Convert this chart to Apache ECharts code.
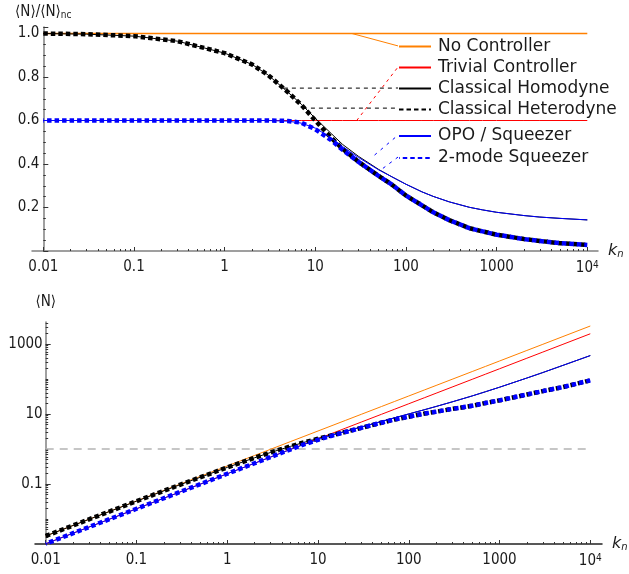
<!DOCTYPE html>
<html>
<head>
<meta charset="utf-8">
<script src="https://cdn.jsdelivr.net/npm/echarts@6/dist/echarts.min.js"></script>
<style>
html, body { margin: 0; padding: 0; background: #fff; }
#chart { width: 629px; height: 574px; }
</style>
</head>
<body>
<div id="chart"></div>
<script>
(function () {
    'use strict';

    /* -- Data -- */

    // Coupling strength samples k_n, shared by both panels.
    var kn = [0.01, 0.03, 0.1, 0.3, 1, 2, 3, 5, 7, 10, 15, 20, 30, 50, 70, 100,
        150, 200, 300, 500, 700, 1000, 2000, 3000, 5000, 10000];

    // Top panel: <N>/<N>nc
    var ratioNoCtrl = [1, 1, 1, 1, 1, 1, 1, 1, 1, 1, 1, 1, 1, 1, 1, 1, 1, 1, 1, 1, 1, 1, 1, 1, 1, 1];
    var ratioTrivial = [0.6, 0.6, 0.6, 0.6, 0.6, 0.6, 0.6, 0.6, 0.6, 0.6, 0.6, 0.6, 0.6,
        0.6, 0.6, 0.6, 0.6, 0.6, 0.6, 0.6, 0.6, 0.6, 0.6, 0.6, 0.6, 0.6];
    var ratioHomodyne = [1.0, 0.997, 0.988, 0.965, 0.91, 0.858, 0.81, 0.73, 0.675, 0.61, 0.54,
        0.49, 0.435, 0.375, 0.341, 0.307, 0.272, 0.251, 0.226, 0.201, 0.189, 0.178, 0.163, 0.156, 0.15, 0.143];
    var ratioHeterodyne = [1.0, 0.997, 0.988, 0.965, 0.91, 0.858, 0.81, 0.73, 0.672, 0.60, 0.52,
        0.47, 0.41, 0.345, 0.305, 0.255, 0.21, 0.178, 0.142, 0.105, 0.09, 0.075, 0.055, 0.046, 0.036, 0.028];
    var ratioOPO = [0.6, 0.6, 0.6, 0.6, 0.6, 0.6, 0.6, 0.597, 0.588, 0.565, 0.52, 0.48, 0.43,
        0.373, 0.341, 0.307, 0.272, 0.251, 0.226, 0.201, 0.189, 0.178, 0.163, 0.156, 0.15, 0.143];
    var ratioTwoMode = [0.6, 0.6, 0.6, 0.6, 0.6, 0.6, 0.6, 0.598, 0.59, 0.56, 0.51, 0.465, 0.41,
        0.345, 0.305, 0.255, 0.21, 0.178, 0.142, 0.105, 0.09, 0.075, 0.055, 0.046, 0.036, 0.028];

    // Bottom panel: <N>
    var nNoCtrl = [0.00327, 0.00981, 0.0327, 0.0981, 0.327, 0.654, 0.981, 1.635, 2.289, 3.27, 4.905,
        6.54, 9.81, 16.35, 22.89, 32.7, 49.05, 65.4, 98.1, 163.5, 228.9, 327, 654, 981, 1635, 3270];
    var nTrivial = [0.00196, 0.00589, 0.0196, 0.0589, 0.196, 0.392, 0.589, 0.981, 1.373, 1.962, 2.943,
        3.924, 5.886, 9.81, 13.73, 19.62, 29.43, 39.24, 58.86, 98.1, 137.3, 196.2, 392.4, 588.6, 981, 1962];
    var nHomodyne = [0.00327, 0.00978, 0.0323, 0.0947, 0.298, 0.561, 0.795, 1.194, 1.545, 1.995, 2.649,
        3.205, 4.267, 6.131, 7.806, 10.04, 13.34, 16.42, 22.17, 32.86, 43.26, 58.21, 106.6, 153.0, 245.3, 467.6];
    var nHeterodyne = [0.00327, 0.00978, 0.0323, 0.0947, 0.298, 0.561, 0.795, 1.194, 1.538, 1.962, 2.551,
        3.074, 4.022, 5.641, 6.981, 8.339, 10.30, 11.64, 13.93, 17.17, 20.60, 24.53, 35.97, 45.13, 58.86, 91.56];
    var nOPO = [0.00196, 0.00589, 0.0196, 0.0589, 0.196, 0.392, 0.589, 0.976, 1.346, 1.848, 2.551,
        3.139, 4.218, 6.099, 7.806, 10.04, 13.34, 16.42, 22.17, 32.86, 43.26, 58.21, 106.6, 153.0, 245.3, 467.6];
    var nTwoMode = [0.00196, 0.00589, 0.0196, 0.0589, 0.196, 0.392, 0.589, 0.978, 1.351, 1.831, 2.502,
        3.041, 4.022, 5.641, 6.981, 8.339, 10.30, 11.64, 13.93, 17.17, 20.60, 24.53, 35.97, 45.13, 58.86, 91.56];

    // Horizontal reference level in the bottom panel.
    var refLevelX = [0.01, 10000];
    var refLevelY = [1, 1];

    // Callout leaders (top panel, data units): [k_n, ratio] from curve to legend sample.
    var leaderNoCtrl = [[25.4, 1.0], [81.7, 0.943]];
    var leaderTrivial = [[28.6, 0.6], [81.7, 0.846]];
    var leaderHomodyne = [[4.5, 0.749], [81.7, 0.749]];
    var leaderHeterodyne = [[7.3, 0.657], [81.7, 0.657]];
    var leaderOPO = [[45, 0.441], [81.7, 0.533]];
    var leaderTwoMode = [[55.7, 0.38], [81.7, 0.432]];

    // Tick labels.
    var xTickValues = [0.01, 0.1, 1, 10, 100, 1000, 10000];
    var xTickLabels = ['0.01', '0.1', '1', '10', '100', '1000', '{p|10}{sup|4}'];
    var nTickValues = [0.1, 10, 1000];
    var nTickLabels = ['0.1', '10', '1000'];

    /* -- Style tokens -- */

    var FONT = "'DejaVu Sans Condensed', 'DejaVu Sans', sans-serif";
    var C = {
        orange: '#ff8000', red: '#ff0000', black: '#000000', blue: '#0000ff',
        axis: '#808080', axisDark: '#222222', text: '#1a1a1a', ref: '#b4b4b4'
    };
    var DOT_W = 4.5;
    var DOTS = [4.5, 3];

    /** Zip two arrays into [[x, y], ...]. */
    function zip(xs, ys) {
        return xs.map(function (x, i) { return [x, ys[i]]; });
    }

    /** Minor tick positions m * 10^e inside [lo, hi]. */
    function logMinors(lo, hi) {
        var out = [];
        for (var e = -4; e <= 5; e++) {
            for (var m = 1; m < 10; m++) {
                var v = m * Math.pow(10, e);
                if (v >= lo && v <= hi) out.push(v);
            }
        }
        return out;
    }

    function labelFor(values, labels) {
        return function (v) {
            for (var i = 0; i < values.length; i++) {
                if (Math.abs(Math.log10(v / values[i])) < 1e-6) return labels[i];
            }
            return '';
        };
    }

    function curve(name, xi, yi, xs, ys, color, width, dash, z, dashOffset) {
        return {
            name: name, type: 'line', xAxisIndex: xi, yAxisIndex: yi,
            data: zip(xs, ys), symbol: 'none', showSymbol: false,
            smooth: false, silent: true, z: z,
            lineStyle: {
                color: color, width: width, type: dash || 'solid', dashOffset: dashOffset || 0,
                cap: 'butt', join: 'round'
            },
            itemStyle: { color: color }
        };
    }

    function leader(pts, color, dash) {
        return {
            name: '_leader', type: 'line', xAxisIndex: 0, yAxisIndex: 0,
            data: pts, symbol: 'none', silent: true, z: 1,
            lineStyle: { color: color, width: 1, type: dash || 'solid' }
        };
    }

    // Axis extents (log ranges slightly wider than 0.01..10^4, as in the figure).
    var TOP_X = [0.0075, 13122];
    var BOT_X = [0.00762, 13459];
    var BOT_Y = [0.00193, 4256];

    var labelRich = {
        p: { fontSize: 15, fontFamily: FONT, color: C.text },
        sup: { fontSize: 10, fontFamily: FONT, color: C.text, verticalAlign: 'top', padding: [0, 0, 6, 0] }
    };

    function xMain(grid, ext, lineColor) {
        return {
            type: 'log', logBase: 10, gridIndex: grid, position: 'bottom',
            min: ext[0], max: ext[1],
            name: '{k|k}{n|n}', nameLocation: 'end', nameGap: 10,
            nameTextStyle: {
                rich: {
                    k: { fontSize: 16, fontStyle: 'italic', fontFamily: 'DejaVu Sans', color: C.text },
                    n: { fontSize: 10, fontStyle: 'italic', fontFamily: 'DejaVu Sans', color: C.text, verticalAlign: 'bottom', padding: [6, 0, 0, 0] }
                }
            },
            axisLine: { lineStyle: { color: lineColor, width: 1.5 } },
            axisTick: { inside: true, length: 4, customValues: xTickValues, lineStyle: { color: '#333' } },
            axisLabel: {
                customValues: xTickValues, margin: 9, fontSize: 15, fontFamily: FONT, color: C.text,
                formatter: labelFor(xTickValues, xTickLabels), rich: labelRich
            },
            splitLine: { show: false }
        };
    }

    function xMinor(grid, ext) {
        return {
            type: 'log', logBase: 10, gridIndex: grid, position: 'bottom',
            min: ext[0], max: ext[1],
            axisLine: { show: false },
            axisTick: { inside: true, length: 2, customValues: logMinors(0.01, 10000), lineStyle: { color: '#333' } },
            axisLabel: { show: false },
            splitLine: { show: false }
        };
    }

    function legendBlock(names, top, lineHeight) {
        return {
            data: names, orient: 'vertical', left: 398, top: top, padding: 0,
            itemWidth: 32, itemHeight: 14, itemGap: 0, selectedMode: false,
            itemStyle: { opacity: 0, color: 'transparent', borderWidth: 0 },
            textStyle: { fontSize: 17, fontFamily: 'DejaVu Sans', color: C.text, lineHeight: lineHeight, padding: [0, 0, 0, 2] }
        };
    }

    var option = {
        animation: false,
        backgroundColor: '#fff',
        grid: [
            { left: 32, right: 31, top: 27, height: 224 },
            { left: 35, right: 27, top: 322, height: 222 }
        ],
        xAxis: [
            xMain(0, TOP_X, C.axis),
            xMinor(0, TOP_X),
            xMain(1, BOT_X, C.axisDark),
            xMinor(1, BOT_X)
        ],
        yAxis: [
            {
                type: 'value', gridIndex: 0, position: 'left', offset: -11.3,
                min: 0, max: 1.03, interval: 0.2,
                name: '{a|\u27e8N\u27e9/\u27e8N\u27e9}{s|nc}', nameLocation: 'end', nameGap: 7,
                nameTextStyle: {
                    rich: {
                        a: { fontSize: 15, fontFamily: FONT, color: C.text },
                        s: { fontSize: 10, fontFamily: FONT, color: C.text, verticalAlign: 'bottom', padding: [5, 0, 0, 0] }
                    }
                },
                axisLine: { show: true, lineStyle: { color: C.axis, width: 1.5 } },
                axisTick: { inside: true, length: 5, lineStyle: { color: '#333' } },
                minorTick: { show: true, splitNumber: 4, length: 2.5, lineStyle: { color: '#333' } },
                axisLabel: {
                    margin: 4, fontSize: 15, fontFamily: FONT, color: C.text,
                    showMinLabel: false, showMaxLabel: false,
                    formatter: function (v) { return v.toFixed(1); }
                },
                splitLine: { show: false }
            },
            {
                type: 'log', logBase: 10, gridIndex: 1, position: 'left', offset: -10.7,
                min: BOT_Y[0], max: BOT_Y[1],
                name: '\u27e8N\u27e9', nameLocation: 'end', nameGap: 12,
                nameTextStyle: { fontSize: 15, fontFamily: FONT, color: C.text },
                axisLine: { show: true, lineStyle: { color: C.axis, width: 1.5 } },
                axisTick: { inside: true, length: 5, customValues: nTickValues, lineStyle: { color: '#333' } },
                axisLabel: {
                    customValues: nTickValues, margin: 3, fontSize: 15, fontFamily: FONT, color: C.text,
                    formatter: labelFor(nTickValues, nTickLabels)
                },
                splitLine: { show: false }
            },
            {
                type: 'log', logBase: 10, gridIndex: 1, position: 'left', offset: -10.7,
                min: BOT_Y[0], max: BOT_Y[1],
                axisLine: { show: false },
                axisTick: { inside: true, length: 2.5, customValues: logMinors(BOT_Y[0], BOT_Y[1]), lineStyle: { color: '#333' } },
                axisLabel: { show: false },
                splitLine: { show: false }
            }
        ],
        legend: [
            legendBlock(['No Controller', 'Trivial Controller', 'Classical Homodyne', 'Classical Heterodyne'], 36, 21),
            legendBlock(['OPO / Squeezer', '2-mode Squeezer'], 125, 22)
        ],
        series: [
            // top panel
            curve('No Controller', 0, 0, kn, ratioNoCtrl, C.orange, 1.5, null, 2),
            curve('Trivial Controller', 0, 0, kn, ratioTrivial, C.red, 1, null, 2),
            curve('Classical Homodyne', 0, 0, kn, ratioHomodyne, C.black, 1, null, 3),
            curve('Classical Heterodyne', 0, 0, kn, ratioHeterodyne, C.black, DOT_W, DOTS, 4),
            curve('OPO / Squeezer', 0, 0, kn, ratioOPO, C.blue, 1, null, 5),
            curve('2-mode Squeezer', 0, 0, kn, ratioTwoMode, C.blue, DOT_W, DOTS, 6, 3.75),
            leader(leaderNoCtrl, C.orange),
            leader(leaderTrivial, C.red, [3, 4]),
            leader(leaderHomodyne, C.black, [4, 4]),
            leader(leaderHeterodyne, C.black, [4, 4]),
            leader(leaderOPO, C.blue, [3, 5]),
            leader(leaderTwoMode, C.blue, [3, 5]),
            // bottom panel
            {
                name: '_ref', type: 'line', xAxisIndex: 2, yAxisIndex: 1, silent: true, z: 1,
                data: zip(refLevelX, refLevelY), symbol: 'none',
                lineStyle: { color: C.ref, width: 1.5, type: [8, 6] }
            },
            curve('No Controller', 2, 1, kn, nNoCtrl, C.orange, 1, null, 2),
            curve('Trivial Controller', 2, 1, kn, nTrivial, C.red, 1, null, 2),
            curve('Classical Homodyne', 2, 1, kn, nHomodyne, C.black, 1, null, 3),
            curve('Classical Heterodyne', 2, 1, kn, nHeterodyne, C.black, DOT_W, DOTS, 4),
            curve('OPO / Squeezer', 2, 1, kn, nOPO, C.blue, 1, null, 5),
            curve('2-mode Squeezer', 2, 1, kn, nTwoMode, C.blue, DOT_W, DOTS, 6, 3.75)
        ]
    };

    var chart = echarts.init(document.getElementById('chart'), null, { renderer: 'canvas' });
    chart.setOption(option);
})();
</script>
</body>
</html>
